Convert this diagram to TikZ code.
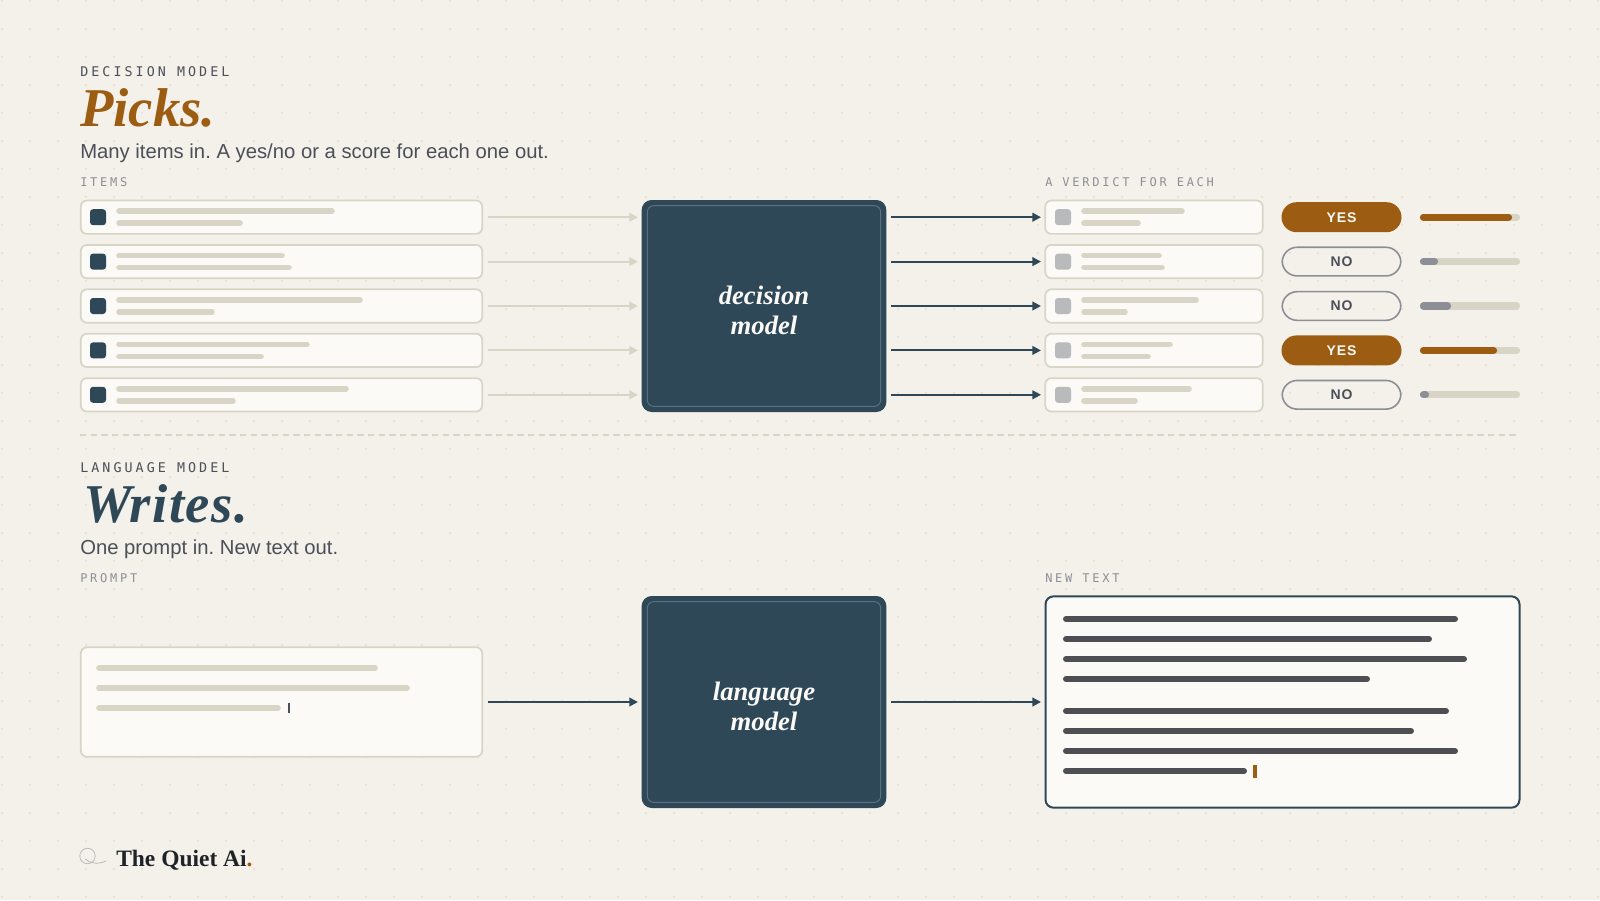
\documentclass[tikz,border=0pt]{standalone}
\usepackage{fontspec}
\usepackage{tikz}
\usetikzlibrary{arrows.meta}
\newfontfamily\serifhead{Liberation Serif}
\newfontfamily\sanstext{Liberation Sans}
\newfontfamily\sanspill[LetterSpace=6]{Liberation Sans}
\newfontfamily\monolabel[LetterSpace=23]{DejaVu Sans Mono}
\definecolor{paper}{HTML}{F4F1EA}
\definecolor{griddot}{HTML}{E2DED3}
\definecolor{card}{HTML}{FBFAF6}
\definecolor{rule}{HTML}{D8D4C6}
\definecolor{navy}{HTML}{2F4858}
\definecolor{navyline}{HTML}{5A7080}
\definecolor{amber}{HTML}{9C5D12}
\definecolor{slate}{HTML}{4B4F58}
\definecolor{mute}{HTML}{8D8F97}
\definecolor{inkbar}{HTML}{4D4F52}
\definecolor{tile}{HTML}{B9BABB}
\definecolor{brandink}{HTML}{1F2328}
\tikzset{
  eyebrow/.style={anchor=base west,inner sep=0pt,text=slate,font=\monolabel\fontsize{10}{12}\selectfont},
  collabel/.style={anchor=base west,inner sep=0pt,text=mute,font=\monolabel\fontsize{9}{11}\selectfont},
  headline/.style={anchor=base west,inner sep=0pt,font=\serifhead\bfseries\itshape\fontsize{41}{41}\selectfont},
  subline/.style={anchor=base west,inner sep=0pt,text=slate,font=\frenchspacing\sanstext\fontsize{15.2}{18}\selectfont},
  itembox/.style={draw=rule,fill=card,line width=1.3pt,rounded corners=4.5pt,inner sep=0pt,minimum width=301pt,minimum height=25pt},
  verdictbox/.style={itembox,minimum width=163pt},
  modelbox/.style={fill=navy,rounded corners=7.5pt,inner sep=0pt,minimum width=183.5pt,minimum height=159pt},
  modeltext/.style={inner sep=0pt,yshift=-3.4pt,text=card,align=center,font=\serifhead\bfseries\itshape\fontsize{20}{22}\selectfont},
  modelframe/.style={draw=navyline,line width=.75pt,rounded corners=4.5pt},
  promptbox/.style={itembox,minimum height=82pt},
  outbox/.style={draw=navy,fill=card,line width=1.5pt,rounded corners=6pt,inner sep=0pt,minimum width=355.5pt,minimum height=158.5pt},
  skelbar/.style={draw=rule,line width=4.2pt,line cap=round},
  inkline/.style={draw=inkbar,line width=4.5pt,line cap=round},
  trackbar/.style={draw=rule,line width=5.4pt,line cap=round},
  flowpale/.style={draw=rule,line width=1.5pt,-{Triangle[length=6.5pt,width=6.5pt]},shorten >=2.6pt,shorten <=3.5pt},
  flowdark/.style={flowpale,draw=navy},
  yespill/.style={fill=amber,text=card,rounded corners=11.25pt,inner sep=0pt,minimum width=90pt,minimum height=22.5pt,font=\sanspill\bfseries\fontsize{10.5}{12}\selectfont},
  nopill/.style={yespill,fill=none,draw=mute,line width=1.2pt,text=slate,minimum width=89pt,minimum height=21.5pt}
}
\begin{document}
\begin{tikzpicture}[x=0.75pt,y=-0.75pt]
\useasboundingbox (0,0) rectangle (1600,900);
\fill[paper] (0,0) rectangle (1600,900);
\foreach \dx in {0,...,57}
  \foreach \dy in {0,...,32}
    \fill[griddot] (2+28*\dx,1+28*\dy) circle[radius=.8pt];

\node[eyebrow] (pickeye) at (80,76) {DECISION MODEL};
\node[headline,text=amber] (picktitle) at (80,126) {Picks.};
\node[subline] (picksub) at (80,158) {Many items in. A yes/no or a score for each one out.};
\node[collabel] (itemlabel) at (80,186) {ITEMS};
\node[collabel] (verdictlabel) at (1045,186) {A VERDICT FOR EACH};

\node[modelbox] (dmodel) at (764,306) {};
\draw[modelframe] ([xshift=4.5pt,yshift=-4.5pt]dmodel.north west) rectangle ([xshift=-4.5pt,yshift=4.5pt]dmodel.south east);
\node[modeltext] (dmodeltext) at (dmodel.center) {decision\\model};

\foreach \i/\yy/\ea/\eb in {1/217.2/335/243,2/261.6/285/292,3/306/363/215,4/350.4/310/264,5/394.8/349/236}{
  \node[itembox] (item\i) at (281.5,\yy) {};
  \fill[navy,rounded corners=2.25pt] (90,\yy-8) rectangle (106,\yy+8);
  \draw[skelbar] (119,\yy-6) -- (\ea-3,\yy-6);
  \draw[skelbar] (119,\yy+6) -- (\eb-3,\yy+6);
  \draw[flowpale] (item\i.east) -- (item\i.east -| dmodel.west);
}

\foreach \i/\yy/\ea/\eb/\ptype/\ptext/\score/\scol in {1/217.2/1185/1141/yespill/YES/1512/amber,2/261.6/1162/1165/nopill/NO/1438/mute,3/306/1199/1128/nopill/NO/1451/mute,4/350.4/1173/1151/yespill/YES/1497/amber,5/394.8/1192/1138/nopill/NO/1429/mute}{
  \node[verdictbox] (verdict\i) at (1154,\yy) {};
  \fill[tile,rounded corners=2.25pt] (1055,\yy-8) rectangle (1071,\yy+8);
  \draw[skelbar] (1084,\yy-6) -- (\ea-3,\yy-6);
  \draw[skelbar] (1084,\yy+6) -- (\eb-3,\yy+6);
  \draw[flowdark] (verdict\i.west -| dmodel.east) -- (verdict\i.west);
  \node[\ptype] (pill\i) at (1341.5,\yy) {\ptext};
  \draw[trackbar] (1423.5,\yy) -- (1516.5,\yy);
  \draw[trackbar,draw=\scol] (1423.5,\yy) -- (\score-3.5,\yy);
}

\draw[rule,line width=1pt,dash pattern=on 4.7pt off 3.3pt] (80,435) -- (1517,435);

\node[eyebrow] (writeeye) at (80,472) {LANGUAGE MODEL};
\node[headline,text=navy] (writetitle) at (83,522) {\addfontfeature{LetterSpace=3}Writes.};
\node[subline] (writesub) at (80,554) {One prompt in. New text out.};
\node[collabel] (promptlabel) at (80,582) {PROMPT};
\node[collabel] (newlabel) at (1045,582) {NEW TEXT};

\node[modelbox] (lmodel) at (764,702) {};
\draw[modelframe] ([xshift=4.5pt,yshift=-4.5pt]lmodel.north west) rectangle ([xshift=-4.5pt,yshift=4.5pt]lmodel.south east);
\node[modeltext] (lmodeltext) at (lmodel.center) {language\\model};

\node[promptbox] (prompt) at (281.5,702) {};
\foreach \yy/\ea in {668/378,688/410,708/281}
  \draw[skelbar] (99,\yy) -- (\ea-3,\yy);
\fill[slate] (287.5,703) rectangle (290,713);

\node[outbox] (newtext) at (1282.5,702) {};
\foreach \yy/\ea in {619/1458,639/1432,659/1467,679/1370,711/1449,731/1414,751/1458,771/1247}
  \draw[inkline] (1066,\yy) -- (\ea-3,\yy);
\fill[amber] (1253,765) rectangle (1257,778);

\draw[flowdark] (prompt.east) -- (lmodel.west);
\draw[flowdark] (lmodel.east) -- (newtext.west);

\draw[tile,line width=.6pt] (87.5,856) circle[radius=5.8pt];
\draw[tile,line width=.6pt] (85,859) .. controls (90,863) and (97,865) .. (106,861);
\node[anchor=base west,inner sep=0pt,text=brandink,font=\serifhead\bfseries\fontsize{17.6}{20}\selectfont] (brand) at (116,866) {The Quiet Ai\textcolor{amber}{.}};
\end{tikzpicture}
\end{document}
